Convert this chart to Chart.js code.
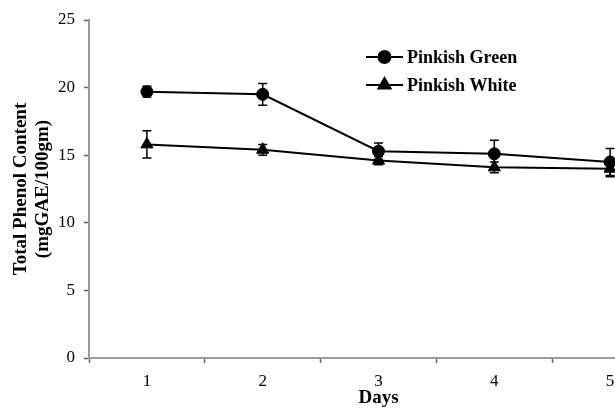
<!DOCTYPE html>
<html>
<head>
    <meta charset="UTF-8">
    <title>Total Phenol Content</title>
    <script src="https://cdn.jsdelivr.net/npm/chart.js@4.4.0/dist/chart.umd.min.js"></script>
    <style>
        * {
            margin: 0;
            padding: 0;
            box-sizing: border-box;
        }

        body {
            background: #fff;
            width: 615px;
            height: 409px;
            overflow: hidden;
        }

        canvas {
            display: block;
        }
    </style>
</head>
<body>
    <canvas id="chart" width="680" height="409"></canvas>

    <script>
        const days = ['1', '2', '3', '4', '5'];
        const pinkishGreen = [19.7, 19.5, 15.3, 15.1, 14.5];
        const pinkishGreenErr = [0.4, 0.8, 0.6, 1.0, 1.0];
        const pinkishWhite = [15.8, 15.4, 14.6, 14.1, 14.0];
        const pinkishWhiteErr = [1.0, 0.4, 0.3, 0.4, 0.6];
        const yTicks = [0, 5, 10, 15, 20, 25];

        const serif = '"Liberation Serif", "Times New Roman", serif';

        // error bars drawn under the markers
        const errorBars = {
            id: 'errorBars',
            beforeDatasetsDraw(chart) {
                const { ctx, scales: { x, y } } = chart;
                ctx.save();
                ctx.strokeStyle = '#000';
                ctx.lineWidth = 1.5;
                chart.data.datasets.forEach(ds => {
                    ds.errors.forEach((e, j) => {
                        const px = x.getPixelForValue(j);
                        const top = y.getPixelForValue(ds.data[j] + e);
                        const bot = y.getPixelForValue(ds.data[j] - e);
                        ctx.beginPath();
                        ctx.moveTo(px, top);
                        ctx.lineTo(px, bot);
                        ctx.moveTo(px - 4.5, top);
                        ctx.lineTo(px + 4.5, top);
                        ctx.moveTo(px - 4.5, bot);
                        ctx.lineTo(px + 4.5, bot);
                        ctx.stroke();
                    });
                });
                ctx.restore();
            }
        };

        // legend with line + marker, like the original figure
        const lineLegend = {
            id: 'lineLegend',
            afterDraw(chart, args, opts) {
                const { ctx } = chart;
                ctx.save();
                chart.data.datasets.forEach((ds, i) => {
                    const y = opts.top + i * opts.rowGap;
                    ctx.strokeStyle = ds.borderColor;
                    ctx.lineWidth = ds.borderWidth;
                    ctx.beginPath();
                    ctx.moveTo(opts.left, y);
                    ctx.lineTo(opts.left + opts.lineLength, y);
                    ctx.stroke();
                    Chart.helpers.drawPoint(ctx, {
                        pointStyle: ds.pointStyle,
                        radius: ds.pointRadius,
                        borderWidth: 1
                    }, opts.left + opts.lineLength / 2, y);
                    ctx.fillStyle = '#000';
                    ctx.font = 'bold 18px ' + serif;
                    ctx.textBaseline = 'middle';
                    ctx.fillText(ds.label, opts.left + opts.lineLength + 4, y + 1);
                });
                ctx.restore();
            }
        };

        new Chart(document.getElementById('chart').getContext('2d'), {
            type: 'line',
            data: {
                labels: days,
                datasets: [{
                    label: 'Pinkish Green',
                    data: pinkishGreen,
                    errors: pinkishGreenErr,
                    borderColor: '#000',
                    backgroundColor: '#000',
                    borderWidth: 2,
                    pointStyle: 'circle',
                    pointRadius: 6,
                    pointBorderWidth: 1,
                    tension: 0
                }, {
                    label: 'Pinkish White',
                    data: pinkishWhite,
                    errors: pinkishWhiteErr,
                    borderColor: '#000',
                    backgroundColor: '#000',
                    borderWidth: 2,
                    pointStyle: 'triangle',
                    pointRadius: 7,
                    pointBorderWidth: 1,
                    tension: 0
                }]
            },
            options: {
                responsive: false,
                animation: false,
                layout: { padding: { top: 20, right: 12, left: 0, bottom: 0 } },
                plugins: {
                    legend: { display: false },
                    tooltip: { enabled: false },
                    lineLegend: { left: 366, top: 57, rowGap: 28, lineLength: 37 }
                },
                scales: {
                    x: {
                        offset: true,
                        grid: { offset: true, drawOnChartArea: false, tickLength: 5, tickColor: '#666', tickWidth: 1.5 },
                        border: { color: '#9a9a9a', width: 2 },
                        ticks: { padding: 8, color: '#000', font: { family: serif, size: 17 } },
                        title: {
                            display: true,
                            text: 'Days',
                            color: '#000',
                            font: { family: serif, size: 19, weight: 'bold', lineHeight: 1.16 },
                            padding: { top: 0, bottom: 0 }
                        },
                        afterFit(s) { s.height = 51; }
                    },
                    y: {
                        min: 0,
                        max: 25,
                        afterBuildTicks(s) { s.ticks = yTicks.map(v => ({ value: v })); },
                        grid: { drawOnChartArea: false, tickLength: 5, tickColor: '#666', tickWidth: 1.5 },
                        border: { color: '#9a9a9a', width: 2 },
                        ticks: { padding: 9, color: '#000', font: { family: serif, size: 17 } },
                        title: {
                            display: true,
                            text: ['Total Phenol Content', '(mgGAE/100gm)'],
                            color: '#000',
                            font: { family: serif, size: 19, weight: 'bold', lineHeight: 1.16 },
                            padding: { top: 10, bottom: 0 }
                        },
                        afterFit(s) { s.width = 89; }
                    }
                }
            },
            plugins: [errorBars, lineLegend]
        });
    </script>
</body>
</html>
